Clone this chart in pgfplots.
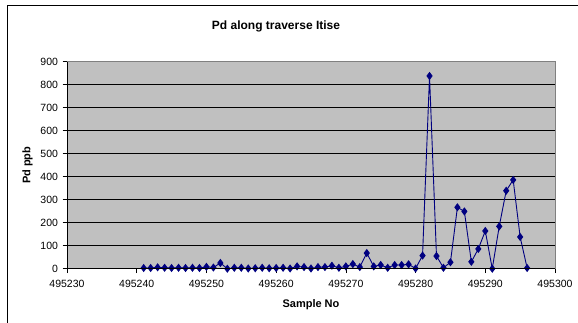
\documentclass[border=0pt]{standalone}
\usepackage{pgfplots}
\pgfplotsset{compat=1.18}
\usepackage{fontspec}
\setmainfont{Liberation Sans}
\definecolor{plotbg}{HTML}{C0C0C0}
\definecolor{navy}{HTML}{000080}
\begin{document}
\begin{tikzpicture}
\begin{axis}[
  name=ax,
  scale only axis,
  width=488bp, height=207bp,
  xmin=495230, xmax=495300,
  ymin=0, ymax=900,
  xtick={495230,495240,495250,495260,495270,495280,495290,495300},
  xticklabels={495230,495240,495250,495260,495270,495280,495290,495300},
  ytick={0,100,...,900},
  axis background/.style={fill=plotbg},
  axis line style={draw=gray, line width=0.8pt},
  ymajorgrids,
  major grid style={black, line width=0.5pt},
  tick align=outside,
  major tick length=4.5bp,
  tick style={black, line width=0.5pt},
  xtick pos=bottom, ytick pos=left,
  /pgf/number format/assume math mode=true,
  /pgf/number format/fixed,
  /pgf/number format/precision=0,
  /pgf/number format/set thousands separator={},
  scaled x ticks=false,
  ticklabel style={font=\fontsize{10.5bp}{12bp}\selectfont},
  xticklabel style={yshift=-3bp},
  yticklabel style={xshift=-1bp},
  xlabel={Sample No},
  ylabel={Pd ppb},
  xlabel style={font=\fontsize{11bp}{13bp}\selectfont\bfseries, yshift=-6bp},
  ylabel style={font=\fontsize{11bp}{13bp}\selectfont\bfseries, yshift=1bp},
  clip=false,
]
\addplot[navy, line width=0.9pt, mark=diamond*, mark size=3.4bp, mark options={fill=navy, draw=navy}] table {
x y
495241 3
495242 3
495243 6
495244 4
495245 3
495246 4
495247 3
495248 4
495249 3
495250 8
495251 5
495252 25
495253 0
495254 4
495255 4
495256 1
495257 2
495258 4
495259 2
495260 3
495261 4
495262 1
495263 10
495264 7
495265 1
495266 7
495267 7
495268 13
495269 4
495270 10
495271 20
495272 7
495273 68
495274 10
495275 16
495276 4
495277 16
495278 16
495279 19
495280 1
495281 57
495282 838
495283 55
495284 4
495285 28
495286 267
495287 249
495288 30
495289 86
495290 164
495291 0
495292 184
495293 339
495294 386
495295 138
495296 3
};
\end{axis}
\draw[black, line width=0.5pt] (ax.south west) -- (ax.north west);
\draw[black, line width=0.5pt] (ax.south west) -- (ax.south east);
\node[font=\fontsize{12bp}{14bp}\selectfont\bfseries] at ([xshift=209bp, yshift=35bp]ax.north west) {Pd along traverse Itise};
\draw[black, line width=1pt] ([xshift=-60bp, yshift=-80bp]ax.south west) -- ([xshift=-60bp, yshift=55.7bp]ax.north west) -- ([xshift=60bp, yshift=55.7bp]ax.north east);
\pgfresetboundingbox
\useasboundingbox ([xshift=-67bp, yshift=-54.3bp]ax.south west) rectangle ([xshift=23bp, yshift=61.7bp]ax.north east);
\end{tikzpicture}
\end{document}
